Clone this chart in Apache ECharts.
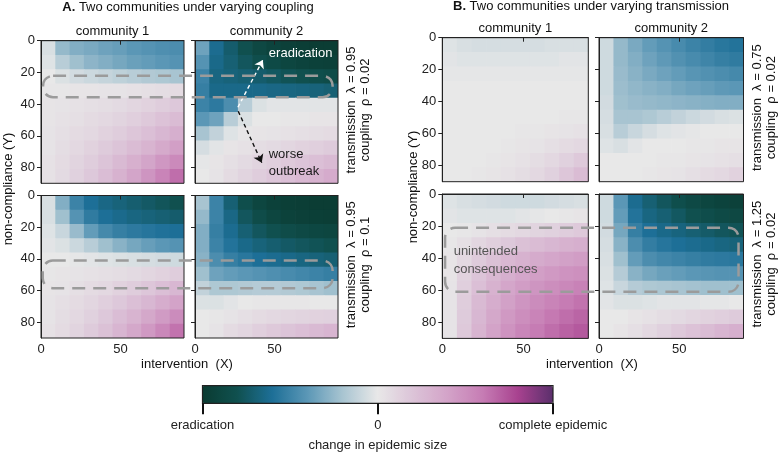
<!DOCTYPE html>
<html><head><meta charset="utf-8">
<script src="https://cdn.jsdelivr.net/npm/echarts@6/dist/echarts.min.js"></script>
<style>html,body{margin:0;padding:0;background:#fff}#c{width:778px;height:455px}</style>
</head><body><div id="c"></div>
<script>
// ---------- data ----------
const CELL = 9;
const cellStarts = [0, 9, 18, 27, 36, 45, 54, 63, 72, 81];
const xTickValues = [0, 50];
const yTickValues = [0, 20, 40, 60, 80];
const colorbarTicks = [-1, 0, 1];
const colorbarTickLabels = ['eradication', '0', 'complete epidemic'];
const communityLabels = ['community 1', 'community 2'];
const panelTitles = ['Two communities under varying coupling', 'Two communities under varying transmission'];
const rowLabels = [
  ['transmission  λ = 0.95', 'coupling  ρ = 0.02'],
  ['transmission  λ = 0.95', 'coupling  ρ = 0.1'],
  ['transmission  λ = 0.75', 'coupling  ρ = 0.02'],
  ['transmission  λ = 1.25', 'coupling  ρ = 0.02']
];

// change in epidemic size, rows = non-compliance (Y) cells, cols = intervention (X) cells
const panelA1 = [
  [-0.05,-0.25,-0.30,-0.32,-0.35,-0.37,-0.40,-0.42,-0.44,-0.45],
  [-0.03,-0.15,-0.22,-0.27,-0.30,-0.33,-0.36,-0.38,-0.40,-0.42],
  [ 0.00,-0.04,-0.07,-0.09,-0.11,-0.13,-0.15,-0.17,-0.18,-0.20],
  [ 0.01, 0.01, 0.02, 0.02, 0.03, 0.03, 0.04, 0.05, 0.06, 0.07],
  [ 0.02, 0.03, 0.04, 0.05, 0.06, 0.08, 0.10, 0.12, 0.15, 0.18],
  [ 0.02, 0.04, 0.05, 0.07, 0.09, 0.11, 0.14, 0.17, 0.21, 0.25],
  [ 0.03, 0.05, 0.07, 0.09, 0.12, 0.15, 0.19, 0.23, 0.28, 0.33],
  [ 0.03, 0.06, 0.09, 0.12, 0.16, 0.20, 0.25, 0.30, 0.36, 0.42],
  [ 0.04, 0.07, 0.11, 0.15, 0.20, 0.26, 0.32, 0.39, 0.46, 0.53],
  [ 0.04, 0.08, 0.13, 0.18, 0.24, 0.31, 0.39, 0.47, 0.56, 0.65]
];
const panelA2 = [
  [-0.35,-0.62,-0.72,-0.80,-0.88,-0.92,-0.95,-0.97,-0.98,-0.98],
  [-0.42,-0.64,-0.70,-0.76,-0.82,-0.86,-0.90,-0.92,-0.94,-0.95],
  [-0.50,-0.66,-0.68,-0.70,-0.72,-0.75,-0.78,-0.80,-0.82,-0.84],
  [-0.52,-0.64,-0.64,-0.64,-0.64,-0.65,-0.66,-0.67,-0.68,-0.70],
  [-0.50,-0.55,-0.45,-0.15,-0.04,-0.02,-0.02,-0.02,-0.02,-0.02],
  [-0.40,-0.35,-0.15,-0.04, 0.00, 0.00, 0.01, 0.01, 0.02, 0.02],
  [-0.20,-0.12,-0.03, 0.01, 0.02, 0.03, 0.04, 0.05, 0.06, 0.07],
  [-0.06,-0.02, 0.02, 0.04, 0.06, 0.08, 0.10, 0.12, 0.14, 0.16],
  [-0.01, 0.02, 0.05, 0.08, 0.11, 0.14, 0.17, 0.20, 0.23, 0.26],
  [ 0.00, 0.03, 0.07, 0.11, 0.15, 0.19, 0.23, 0.27, 0.31, 0.35]
];
const panelA3 = [
  [-0.05,-0.30,-0.50,-0.60,-0.65,-0.68,-0.71,-0.74,-0.77,-0.80],
  [-0.05,-0.22,-0.42,-0.54,-0.60,-0.63,-0.66,-0.68,-0.70,-0.72],
  [-0.03,-0.10,-0.24,-0.38,-0.47,-0.52,-0.55,-0.57,-0.59,-0.60],
  [-0.02,-0.04,-0.09,-0.15,-0.22,-0.28,-0.33,-0.37,-0.40,-0.42],
  [ 0.00, 0.00,-0.01,-0.02,-0.03,-0.04,-0.05,-0.06,-0.07,-0.08],
  [ 0.01, 0.02, 0.03, 0.04, 0.05, 0.06, 0.08, 0.10, 0.12, 0.15],
  [ 0.02, 0.03, 0.05, 0.07, 0.09, 0.12, 0.15, 0.19, 0.23, 0.28],
  [ 0.03, 0.05, 0.07, 0.10, 0.14, 0.18, 0.23, 0.28, 0.34, 0.40],
  [ 0.03, 0.06, 0.09, 0.13, 0.18, 0.24, 0.30, 0.37, 0.44, 0.52],
  [ 0.04, 0.07, 0.11, 0.16, 0.22, 0.29, 0.37, 0.45, 0.54, 0.63]
];
const panelA4 = [
  [-0.20,-0.50,-0.70,-0.82,-0.90,-0.94,-0.96,-0.97,-0.98,-0.98],
  [-0.25,-0.50,-0.65,-0.76,-0.84,-0.90,-0.93,-0.95,-0.96,-0.97],
  [-0.30,-0.52,-0.62,-0.70,-0.76,-0.80,-0.84,-0.87,-0.89,-0.90],
  [-0.30,-0.50,-0.58,-0.64,-0.68,-0.71,-0.74,-0.76,-0.78,-0.80],
  [-0.28,-0.45,-0.52,-0.56,-0.60,-0.62,-0.64,-0.66,-0.68,-0.70],
  [-0.22,-0.35,-0.38,-0.40,-0.42,-0.44,-0.46,-0.48,-0.50,-0.52],
  [-0.12,-0.18,-0.18,-0.17,-0.16,-0.16,-0.17,-0.18,-0.20,-0.22],
  [-0.04,-0.04,-0.02, 0.00, 0.01, 0.01, 0.01, 0.01, 0.00, 0.00],
  [ 0.00, 0.01, 0.03, 0.05, 0.07, 0.09, 0.10, 0.11, 0.12, 0.13],
  [ 0.00, 0.03, 0.07, 0.10, 0.14, 0.17, 0.20, 0.23, 0.26, 0.29]
];
const panelB1 = [
  [-0.03,-0.05,-0.06,-0.06,-0.06,-0.06,-0.06,-0.05,-0.05,-0.05],
  [-0.02,-0.03,-0.03,-0.03,-0.03,-0.03,-0.03,-0.03,-0.02,-0.02],
  [-0.01,-0.01,-0.01,-0.01,-0.01,-0.01,-0.01,-0.01,-0.01,-0.01],
  [ 0.00, 0.00, 0.00, 0.00, 0.00, 0.00, 0.00, 0.00, 0.00, 0.00],
  [ 0.00, 0.00, 0.00, 0.00, 0.00, 0.00, 0.00, 0.00, 0.00, 0.00],
  [ 0.00, 0.00, 0.00, 0.00, 0.00, 0.00, 0.00, 0.00, 0.01, 0.01],
  [ 0.00, 0.00, 0.00, 0.00, 0.00, 0.01, 0.01, 0.02, 0.03, 0.04],
  [ 0.00, 0.00, 0.00, 0.00, 0.01, 0.02, 0.03, 0.05, 0.07, 0.09],
  [ 0.00, 0.00, 0.00, 0.01, 0.02, 0.04, 0.06, 0.09, 0.13, 0.17],
  [ 0.00, 0.00, 0.01, 0.02, 0.04, 0.06, 0.09, 0.13, 0.19, 0.25]
];
const panelB2 = [
  [-0.08,-0.25,-0.32,-0.38,-0.42,-0.46,-0.50,-0.53,-0.56,-0.58],
  [-0.08,-0.25,-0.30,-0.35,-0.39,-0.43,-0.46,-0.49,-0.52,-0.54],
  [-0.08,-0.24,-0.28,-0.32,-0.35,-0.38,-0.41,-0.43,-0.45,-0.47],
  [-0.08,-0.23,-0.26,-0.28,-0.30,-0.33,-0.35,-0.37,-0.39,-0.40],
  [-0.07,-0.22,-0.24,-0.25,-0.26,-0.27,-0.28,-0.29,-0.30,-0.30],
  [-0.06,-0.20,-0.20,-0.18,-0.15,-0.12,-0.09,-0.07,-0.05,-0.04],
  [-0.05,-0.15,-0.10,-0.06,-0.03,-0.02,-0.01, 0.00, 0.00, 0.00],
  [-0.03,-0.05,-0.02, 0.00, 0.00, 0.00, 0.01, 0.01, 0.02, 0.02],
  [ 0.00, 0.00, 0.00, 0.00, 0.01, 0.01, 0.02, 0.03, 0.04, 0.05],
  [ 0.00, 0.00, 0.00, 0.01, 0.02, 0.03, 0.05, 0.07, 0.09, 0.12]
];
const panelB3 = [
  [-0.03,-0.05,-0.06,-0.07,-0.08,-0.08,-0.08,-0.07,-0.06,-0.05],
  [-0.02,-0.03,-0.03,-0.03,-0.03,-0.02,-0.01, 0.00, 0.01, 0.02],
  [ 0.00, 0.01, 0.03, 0.05, 0.07, 0.09, 0.11, 0.13, 0.15, 0.17],
  [ 0.01, 0.05, 0.10, 0.14, 0.18, 0.22, 0.25, 0.28, 0.31, 0.33],
  [ 0.02, 0.09, 0.16, 0.22, 0.27, 0.31, 0.35, 0.38, 0.41, 0.43],
  [ 0.02, 0.12, 0.20, 0.27, 0.33, 0.38, 0.42, 0.45, 0.48, 0.50],
  [ 0.03, 0.14, 0.23, 0.31, 0.38, 0.43, 0.47, 0.51, 0.54, 0.57],
  [ 0.03, 0.15, 0.26, 0.34, 0.41, 0.47, 0.52, 0.56, 0.60, 0.63],
  [ 0.03, 0.16, 0.28, 0.37, 0.45, 0.51, 0.56, 0.61, 0.65, 0.68],
  [ 0.03, 0.17, 0.30, 0.40, 0.48, 0.55, 0.60, 0.65, 0.69, 0.72]
];
const panelB4 = [
  [-0.08,-0.40,-0.62,-0.70,-0.76,-0.82,-0.87,-0.90,-0.92,-0.94],
  [-0.08,-0.38,-0.58,-0.66,-0.70,-0.75,-0.80,-0.83,-0.86,-0.88],
  [-0.07,-0.33,-0.52,-0.60,-0.64,-0.67,-0.70,-0.73,-0.76,-0.78],
  [-0.06,-0.28,-0.45,-0.53,-0.57,-0.60,-0.62,-0.64,-0.66,-0.68],
  [-0.05,-0.22,-0.38,-0.45,-0.48,-0.50,-0.52,-0.54,-0.55,-0.56],
  [-0.04,-0.16,-0.28,-0.33,-0.36,-0.38,-0.40,-0.41,-0.42,-0.42],
  [-0.03,-0.10,-0.16,-0.18,-0.19,-0.20,-0.21,-0.22,-0.22,-0.22],
  [-0.02,-0.04,-0.04,-0.03,-0.02,-0.02,-0.02,-0.01,-0.01, 0.00],
  [ 0.00, 0.00, 0.02, 0.04, 0.06, 0.08, 0.10, 0.12, 0.14, 0.16],
  [ 0.00, 0.02, 0.05, 0.09, 0.13, 0.17, 0.21, 0.25, 0.29, 0.33]
];
const panels = [panelA1, panelA2, panelA3, panelA4, panelB1, panelB2, panelB3, panelB4];

// annotations in data units of the panels
const annotationBoxes = [
  { g0: 0, g1: 1, x0: 1.3, x1: 86.6, y0: 22.2, y1: 35.7 },
  { g0: 2, g1: 3, x0: 1.1, x1: 86.6, y0: 41.1, y1: 58.5 },
  { g0: 6, g1: 7, x0: 1.7, x1: 86.9, y0: 21.0, y1: 61.0 }
];
const arrowPaths = [
  { from: [27.0, 42.0], to: [42.7, 12.2], curveness: 0.25, color: '#ffffff' },
  { from: [27.2, 44.5], to: [42.0, 77.0], curveness: -0.28, color: '#111111' }
];
const annotationTexts = [
  { g: 1, x: 66.5, y: 7.9, text: 'eradication', color: '#ffffff', align: 'center' },
  { g: 1, x: 46.4, y: 72.0, text: 'worse', color: '#1a1a1a', align: 'left' },
  { g: 1, x: 46.4, y: 82.5, text: 'outbreak', color: '#1a1a1a', align: 'left' },
  { g: 6, x: 7.0, y: 36.0, text: 'unintended', color: '#555555', align: 'left' },
  { g: 6, x: 7.0, y: 47.0, text: 'consequences', color: '#555555', align: 'left' }
];

// ---------- layout & style ----------
const FONT = '"Liberation Sans", Arial, Helvetica, sans-serif';
const layout = [
  { left: 41, top: 40.7, width: 143, height: 142.6 },
  { left: 195, top: 40.7, width: 143, height: 142.6 },
  { left: 41, top: 195.5, width: 143, height: 142.5 },
  { left: 195, top: 195.5, width: 143, height: 142.5 },
  { left: 442.3, top: 37.7, width: 146, height: 144 },
  { left: 599, top: 37.7, width: 144.5, height: 144 },
  { left: 442.3, top: 194, width: 146, height: 144.4 },
  { left: 599, top: 194, width: 144.5, height: 144.4 }
];
const showXLabels = [false, false, true, true, false, false, true, true];
const showYLabels = [true, false, true, false, true, false, true, false];
const cmap = ['#0a3b31', '#10504f', '#1d6f97', '#5b97b6', '#a8c4d1', '#e8e8e8',
              '#dcc4d8', '#d3a3c8', '#c67cb4', '#a8428f', '#5a2f6c'];

function renderCell(params, api) {
  const x0 = api.value(0), y0 = api.value(1);
  const p0 = api.coord([x0, y0]);
  const p1 = api.coord([x0 + CELL, y0 + CELL]);
  return {
    type: 'rect',
    shape: {
      x: Math.min(p0[0], p1[0]), y: Math.min(p0[1], p1[1]),
      width: Math.abs(p1[0] - p0[0]) + 0.7, height: Math.abs(p1[1] - p0[1]) + 0.7
    },
    style: { fill: api.visual('color') }
  };
}

const grids = layout.map(l => Object.assign({
  show: true, borderColor: '#222', borderWidth: 1, backgroundColor: 'transparent',
  z: 5, outerBoundsMode: 'none', containLabel: false
}, l));
grids.push({ left: 202.5, top: 385.7, width: 350.5, height: 17.6, show: true,
  borderColor: '#222', borderWidth: 1.2, backgroundColor: 'transparent', z: 10,
  outerBoundsMode: 'none', containLabel: false });

const xAxes = layout.map((l, i) => ({
  type: 'value', gridIndex: i, min: 0, max: 90, position: 'bottom', z: 6,
  axisLine: { show: true, lineStyle: { color: '#222', width: 1 } },
  axisTick: { show: true, length: 4, customValues: xTickValues, lineStyle: { color: '#222' } },
  axisLabel: { show: showXLabels[i], customValues: xTickValues, fontSize: 13, color: '#222', margin: 5, fontFamily: FONT },
  splitLine: { show: false }
}));
xAxes.push({
  type: 'value', gridIndex: 8, min: -1, max: 1, position: 'bottom', z: 11,
  axisLine: { show: false },
  axisTick: { show: true, length: 11, customValues: colorbarTicks, lineStyle: { color: '#111', width: 2 } },
  axisLabel: { show: true, customValues: colorbarTicks, margin: 16, fontSize: 13, color: '#222', fontFamily: FONT,
    formatter: v => colorbarTickLabels[colorbarTicks.indexOf(Math.round(v))] },
  splitLine: { show: false },
  name: 'change in epidemic size', nameLocation: 'middle', nameGap: 36,
  nameTextStyle: { fontSize: 13, color: '#222', fontFamily: FONT }
});
const yAxes = layout.map((l, i) => ({
  type: 'value', gridIndex: i, min: 0, max: 90, inverse: true, position: 'left', z: 6,
  axisLine: { show: true, lineStyle: { color: '#222', width: 1 } },
  axisTick: { show: true, length: 4, customValues: yTickValues, lineStyle: { color: '#222' } },
  axisLabel: { show: showYLabels[i], customValues: yTickValues, fontSize: 13, color: '#222', margin: 6, fontFamily: FONT },
  splitLine: { show: false }
}));
yAxes.push({ type: 'value', gridIndex: 8, min: 0, max: 1, show: false });

const series = panels.map((grid, i) => ({
  type: 'custom', xAxisIndex: i, yAxisIndex: i, clip: true, silent: true, z: 1,
  encode: { x: 0, y: 1 },
  renderItem: renderCell,
  data: grid.flatMap((row, r) => row.map((v, c) => [cellStarts[c], cellStarts[r], v]))
}));
series.push({
  type: 'line', xAxisIndex: 1, yAxisIndex: 1, data: [], silent: true,
  markLine: {
    silent: true, animation: false, symbol: ['none', 'arrow'], symbolSize: 8,
    label: { show: false }, emphasis: { disabled: true },
    data: arrowPaths.map(a => [
      { coord: a.from, lineStyle: { color: a.color, width: 1.4, type: [4, 3], curveness: a.curveness },
        itemStyle: { color: a.color } },
      { coord: a.to }
    ])
  }
});

const chart = echarts.init(document.getElementById('c'));
chart.setOption({
  animation: false,
  backgroundColor: '#ffffff',
  textStyle: { fontFamily: FONT },
  grid: grids,
  xAxis: xAxes,
  yAxis: yAxes,
  visualMap: {
    type: 'continuous', min: -1, max: 1, dimension: 2, seriesIndex: [0, 1, 2, 3, 4, 5, 6, 7],
    orient: 'horizontal', left: 202, top: 385.7, itemWidth: 17.6, itemHeight: 351,
    calculable: false, hoverLink: false, padding: 0, z: 4,
    inRange: { color: cmap }
  },
  series: series
});

// ---------- texts & annotations ----------
const els = [];
function txt(x, y, text, size, opts) {
  els.push(Object.assign({
    type: 'text', x: x, y: y, z: 100,
    style: Object.assign({ text: text, fill: '#111', font: size + 'px ' + FONT, align: 'center', verticalAlign: 'middle' }, (opts && opts.style) || {})
  }, opts && opts.rotation !== undefined ? { rotation: opts.rotation } : {}));
}
// panel titles (bold letter)
els.push({ type: 'text', x: 188, y: 7, z: 100, style: { text: '{b|A.} ' + panelTitles[0], font: '13px ' + FONT, fill: '#111', align: 'center', verticalAlign: 'middle', rich: { b: { font: 'bold 13px ' + FONT, fill: '#111' } } } });
els.push({ type: 'text', x: 591, y: 6, z: 100, style: { text: '{b|B.} ' + panelTitles[1], font: '13px ' + FONT, fill: '#111', align: 'center', verticalAlign: 'middle', rich: { b: { font: 'bold 13px ' + FONT, fill: '#111' } } } });
// community labels
[[0, 1], [4, 5]].forEach((pair) => {
  pair.forEach((g, j) => {
    const l = layout[g];
    txt(l.left + l.width / 2, l.top - 9.5, communityLabels[j], 13);
  });
});
// row labels (rotated)
[[1, 0], [3, 1], [5, 2], [7, 3]].forEach(([g, r]) => {
  const l = layout[g];
  els.push({ type: 'text', x: l.left + l.width + 20.5, y: l.top + l.height / 2 - 2, rotation: Math.PI / 2, z: 100,
    style: { text: rowLabels[r].join('\n'), font: '13px ' + FONT, fill: '#111', align: 'center', verticalAlign: 'middle', lineHeight: 14 } });
});
// axis titles
txt(187, 364, 'intervention  (X)', 13);
txt(592, 364, 'intervention  (X)', 13);
txt(8, 189, 'non-compliance (Y)', 13, { rotation: Math.PI / 2 });
txt(413, 187, 'non-compliance (Y)', 13, { rotation: Math.PI / 2 });

annotationBoxes.forEach(b => {
  const p0 = chart.convertToPixel({ gridIndex: b.g0 }, [b.x0, b.y0]);
  const p1 = chart.convertToPixel({ gridIndex: b.g1 }, [b.x1, b.y1]);
  els.push({ type: 'rect', z: 90, silent: true,
    shape: { x: p0[0], y: p0[1], width: p1[0] - p0[0], height: p1[1] - p0[1], r: 10 },
    style: { fill: 'transparent', stroke: '#9b9b9b', lineWidth: 2.5, lineDash: [13, 8] } });
});
annotationTexts.forEach(t => {
  const p = chart.convertToPixel({ gridIndex: t.g }, [t.x, t.y]);
  els.push({ type: 'text', x: p[0], y: p[1], z: 100,
    style: { text: t.text, fill: t.color, font: '13px ' + FONT, align: t.align, verticalAlign: 'middle' } });
});

chart.setOption({ graphic: { elements: els } });
</script>
</body></html>
